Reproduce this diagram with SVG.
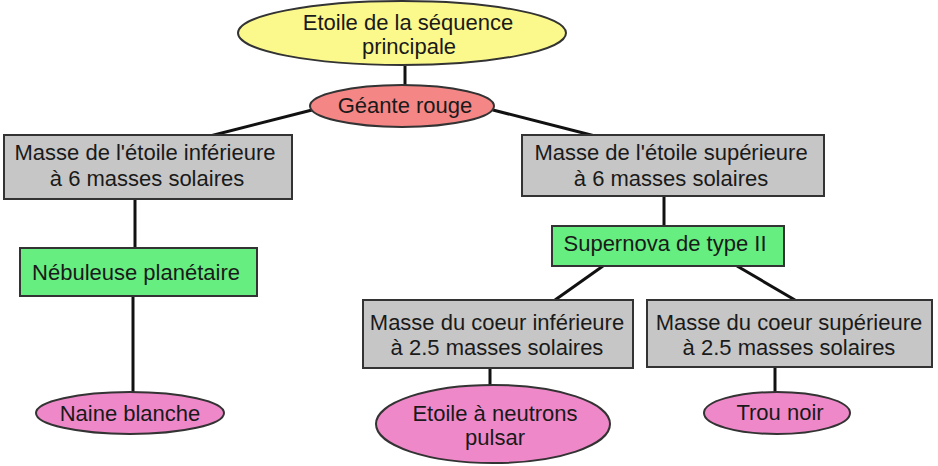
<svg xmlns="http://www.w3.org/2000/svg" width="938" height="466" viewBox="0 0 938 466">
<style>
text{font-family:"Liberation Sans",Arial,sans-serif;font-size:22px;fill:#1a1a1a;text-anchor:middle}
.box{stroke:#333;stroke-width:2}
.gray{fill:#c6c6c6}
.green{fill:#66ee80}
.pink{fill:#ee88c8}
.conn line{stroke:#111;stroke-width:3}
</style>
<rect width="938" height="466" fill="#fff"/>
<g class="conn">
<line x1="405" y1="66" x2="405" y2="88"/>
<line x1="312" y1="110" x2="210" y2="136"/>
<line x1="493" y1="110" x2="595" y2="136"/>
<line x1="135" y1="199" x2="135" y2="248"/>
<line x1="133" y1="296" x2="133" y2="392"/>
<line x1="664" y1="196" x2="664" y2="226"/>
<line x1="603" y1="266" x2="555" y2="300"/>
<line x1="737" y1="266" x2="795" y2="300"/>
<line x1="490" y1="368" x2="490" y2="386"/>
<line x1="775" y1="367" x2="775" y2="392"/>
</g>
<g id="etoile-sequence"><ellipse class="box" cx="402" cy="33" rx="164" ry="32" fill="#fbf98c"/><text x="408" y="30">Etoile de la séquence</text><text x="409" y="54">principale</text></g>
<g id="geante-rouge"><ellipse class="box" cx="402" cy="106" rx="92" ry="21" fill="#f48686"/><text x="405" y="113">Géante rouge</text></g>
<g id="masse-etoile-inf"><rect class="box gray" x="4" y="135" width="288" height="64"/><text x="145" y="160">Masse de l'étoile inférieure</text><text x="147" y="186">à 6 masses solaires</text></g>
<g id="masse-etoile-sup"><rect class="box gray" x="522" y="135" width="302" height="61"/><text x="671" y="160">Masse de l'étoile supérieure</text><text x="671" y="186">à 6 masses solaires</text></g>
<g id="nebuleuse"><rect class="box green" x="20" y="248" width="237" height="48"/><text x="136" y="280">Nébuleuse planétaire</text></g>
<g id="supernova"><rect class="box green" x="552" y="226" width="232" height="40"/><text x="665" y="251">Supernova de type II</text></g>
<g id="masse-coeur-inf"><rect class="box gray" x="363" y="300" width="270" height="68"/><text x="497" y="330">Masse du coeur inférieure</text><text x="497" y="355">à 2.5 masses solaires</text></g>
<g id="masse-coeur-sup"><rect class="box gray" x="647" y="300" width="285" height="67"/><text x="789" y="330">Masse du coeur supérieure</text><text x="789" y="355">à 2.5 masses solaires</text></g>
<g id="naine-blanche"><ellipse class="box pink" cx="130" cy="413" rx="94" ry="21"/><text x="130" y="421">Naine blanche</text></g>
<g id="etoile-neutrons"><ellipse class="box pink" cx="493" cy="424" rx="117" ry="39"/><text x="495" y="421">Etoile à neutrons</text><text x="495" y="445">pulsar</text></g>
<g id="trou-noir"><ellipse class="box pink" cx="777" cy="413" rx="73" ry="21"/><text x="780" y="420">Trou noir</text></g>
</svg>
